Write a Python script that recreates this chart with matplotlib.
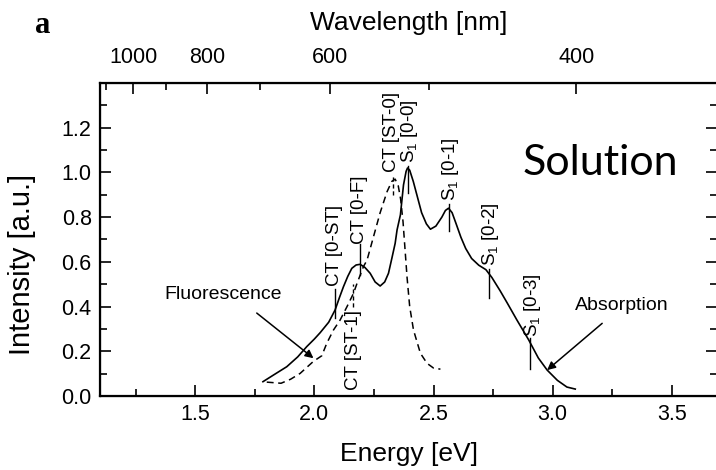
import matplotlib
matplotlib.use("Agg")
import matplotlib.pyplot as plt
from matplotlib.ticker import MultipleLocator

plt.rcParams["font.family"] = ["Liberation Sans", "DejaVu Sans"]
plt.rcParams["mathtext.default"] = "regular"

# absorption spectrum (solid)
abs_energy = [1.784, 1.83, 1.884, 1.93, 1.968, 2.00, 2.024, 2.06, 2.087, 2.105,
              2.122, 2.14, 2.157, 2.175, 2.192, 2.212, 2.234, 2.255, 2.276, 2.295,
              2.311, 2.326, 2.339, 2.347, 2.361, 2.374, 2.385, 2.391, 2.40, 2.415,
              2.43, 2.45, 2.47, 2.487, 2.51, 2.535, 2.55, 2.563, 2.578, 2.595,
              2.615, 2.635, 2.66, 2.69, 2.72, 2.745, 2.78, 2.81, 2.85, 2.90,
              2.94, 2.977, 3.02, 3.06, 3.095]
abs_intensity = [0.064, 0.095, 0.131, 0.175, 0.221, 0.255, 0.283, 0.33, 0.385, 0.44,
                 0.489, 0.535, 0.571, 0.586, 0.589, 0.575, 0.549, 0.51, 0.492, 0.51,
                 0.549, 0.62, 0.683, 0.743, 0.81, 0.944, 1.005, 1.02, 1.01, 0.96,
                 0.90, 0.82, 0.77, 0.746, 0.76, 0.80, 0.83, 0.84, 0.82, 0.77,
                 0.71, 0.66, 0.615, 0.585, 0.565, 0.53, 0.47, 0.415, 0.34, 0.25,
                 0.17, 0.116, 0.07, 0.04, 0.031]

# fluorescence spectrum (dashed)
fl_energy = [1.80, 1.86, 1.90, 1.94, 1.996, 2.031, 2.052, 2.08, 2.108, 2.137,
             2.164, 2.179, 2.206, 2.221, 2.256, 2.276, 2.305, 2.325, 2.339, 2.352,
             2.362, 2.372, 2.389, 2.40, 2.416, 2.445, 2.473, 2.50, 2.529]
fl_intensity = [0.062, 0.057, 0.075, 0.101, 0.155, 0.18, 0.236, 0.295, 0.34, 0.40,
                0.459, 0.504, 0.579, 0.608, 0.743, 0.82, 0.914, 0.96, 0.97, 0.94,
                0.88, 0.78, 0.53, 0.40, 0.295, 0.191, 0.146, 0.125, 0.12]

# transition markers
mark_labels = ["CT [0-ST]", "CT [0-F]", "CT [ST-1]", "CT [ST-0]",
               "S$_1$ [0-0]", "S$_1$ [0-1]", "S$_1$ [0-2]", "S$_1$ [0-3]"]
mark_energy = [2.087, 2.192, 2.163, 2.33, 2.391, 2.563, 2.731, 2.907]
mark_low = [0.35, 0.54, 0.40, 0.90, 0.91, 0.74, 0.44, 0.12]
mark_high = [0.48, 0.68, 0.50, 0.99, 1.03, 0.86, 0.57, 0.26]
mark_text_x = [2.085, 2.190, 2.163, 2.322, 2.400, 2.572, 2.740, 2.916]
mark_text_y = [0.49, 0.68, 0.385, 1.00, 1.04, 0.87, 0.58, 0.265]
mark_dashed = [False, False, True, True, False, False, False, False]

wl_major = [1000, 800, 600, 400]
wl_minor = [1100, 900, 700, 500]

fig = plt.figure(figsize=(7.16, 4.70), dpi=100)
ax = fig.add_axes([100 / 716, 74 / 470, 617 / 716, 313 / 470])

ax.plot(abs_energy, abs_intensity, color="black", lw=1.2)
ax.plot(fl_energy, fl_intensity, color="black", lw=1.1, dashes=(4.5, 3))

for i in range(len(mark_labels)):
    if mark_dashed[i]:
        ax.plot([mark_energy[i], mark_energy[i]], [mark_low[i], mark_high[i]],
                color="black", lw=1.0, dashes=(3, 2))
    else:
        ax.plot([mark_energy[i], mark_energy[i]], [mark_low[i], mark_high[i]],
                color="black", lw=1.0)
    va = "top" if mark_labels[i] == "CT [ST-1]" else "bottom"
    ax.text(mark_text_x[i], mark_text_y[i], mark_labels[i], rotation=90,
            ha="center", va=va, fontsize=13.5)

ax.text(1.615, 0.452, "Fluorescence", fontsize=14, ha="center", va="center")
ax.annotate("", xy=(1.996, 0.169), xytext=(1.758, 0.371),
            arrowprops=dict(arrowstyle="-|>", color="black", lw=1.1,
                            mutation_scale=12, shrinkA=0, shrinkB=0))
ax.text(3.292, 0.403, "Absorption", fontsize=14, ha="center", va="center")
ax.annotate("", xy=(2.977, 0.116), xytext=(3.208, 0.325),
            arrowprops=dict(arrowstyle="-|>", color="black", lw=1.1,
                            mutation_scale=12, shrinkA=0, shrinkB=0))

ax.text(3.201, 0.989, "Solution", fontsize=31, family="Lato",
        ha="center", va="baseline")

ax.set_xlim(1.1, 3.69)
ax.set_ylim(0, 1.4)
ax.xaxis.set_major_locator(MultipleLocator(0.5))
ax.xaxis.set_minor_locator(MultipleLocator(0.25))
ax.yaxis.set_minor_locator(MultipleLocator(0.1))
ax.set_yticks([0.0, 0.2, 0.4, 0.6, 0.8, 1.0, 1.2])
ax.tick_params(which="both", direction="in", top=False, right=True, width=1.2)
ax.tick_params(which="major", length=8, labelsize=15.5, pad=6)
ax.tick_params(which="minor", length=5)
ax.spines["right"].set_visible(False)
for s in ["left", "bottom", "top"]:
    ax.spines[s].set_linewidth(1.6)

ax.set_xlabel("Energy [eV]", fontsize=19, labelpad=12)
fig.text(22 / 716, 1 - 264 / 470, "Intensity [a.u.]", rotation=90,
         fontsize=21, ha="center", va="center")

ax2 = ax.twiny()
ax2.set_xlim(ax.get_xlim())
ax2.set_xticks([1240 / w for w in wl_major])
ax2.set_xticklabels([str(w) for w in wl_major])
ax2.set_xticks([1240 / w for w in wl_minor], minor=True)
ax2.tick_params(which="both", direction="in", width=1.2)
ax2.tick_params(which="major", length=8, labelsize=15.5, pad=11)
ax2.tick_params(which="minor", length=5)
ax2.spines["right"].set_visible(False)
ax2.set_xlabel("Wavelength [nm]", fontsize=19, labelpad=12)

fig.text(35 / 716, 1 - 33 / 470, "a", fontsize=22, fontweight="bold",
         family="Liberation Serif", ha="left", va="baseline")

fig.savefig("out.png", dpi=100)
